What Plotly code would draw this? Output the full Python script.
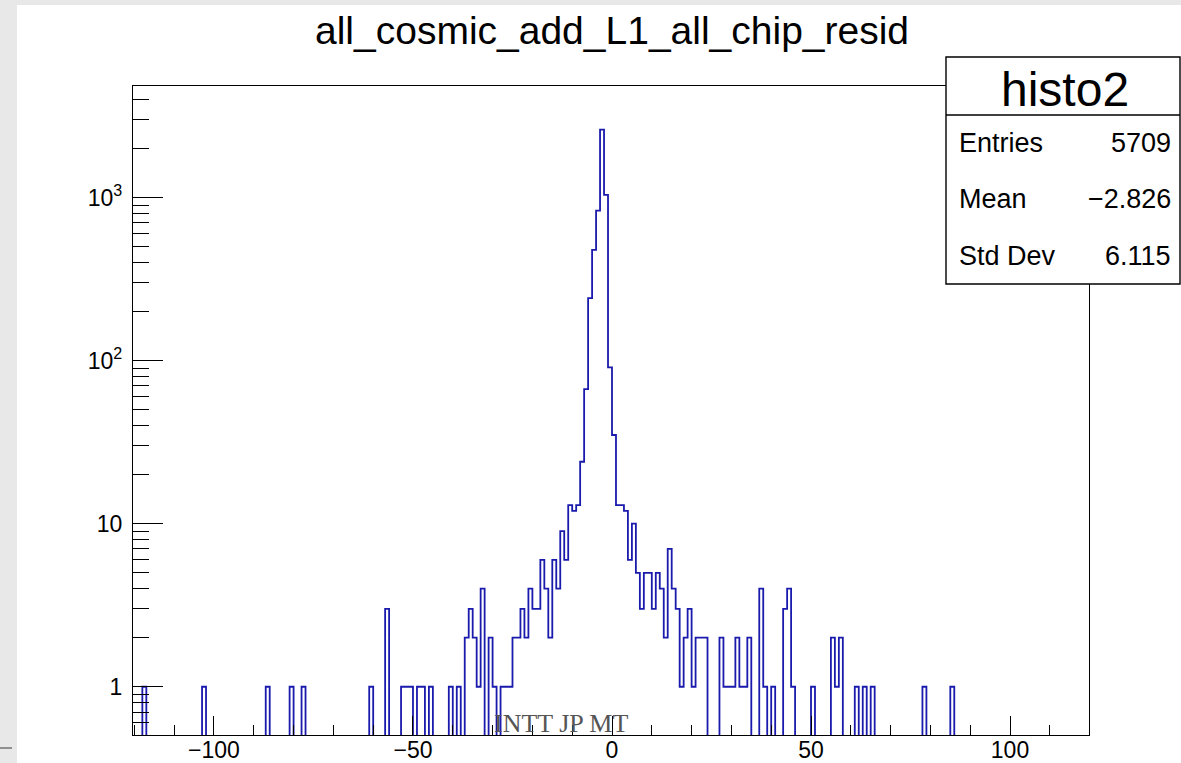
import plotly.graph_objects as go

# ---------------- data ----------------
bin_left = [-118, -103, -87, -81, -78, -61, -57, -53, -52, -51, -49, -48, -46, -41, -39,
            -37, -36, -35, -34, -33, -31, -30, -28, -27, -26, -25, -24, -23, -22, -21,
            -20, -19, -18, -17, -16, -15, -14, -13, -12, -11, -10, -9, -8, -7, -6,
            -5, -4, -3, -2, -1, 0, 1, 2, 3, 4, 5, 6, 7, 8, 9,
            10, 11, 12, 13, 14, 15, 16, 17, 18, 19, 20, 21, 22, 23, 27,
            28, 29, 30, 31, 32, 33, 34, 37, 38, 40, 43, 44, 45, 50, 55,
            56, 57, 61, 63, 65, 78, 85]
counts = [1, 1, 1, 1, 1, 1, 3, 1, 1, 1, 1, 1, 1, 1, 1,
          2, 3, 2, 1, 4, 2, 1, 1, 1, 1, 2, 2, 3, 2, 4,
          3, 3, 6, 4, 2, 6, 4, 9, 6, 13, 12, 13, 24, 67, 242,
          478, 832, 2614, 1039, 91, 35, 13, 13, 12, 6, 10, 5, 3, 5, 5,
          3, 5, 4, 2, 7, 4, 3, 1, 2, 3, 1, 2, 2, 2, 2,
          1, 1, 1, 2, 1, 1, 2, 4, 1, 1, 3, 4, 1, 1, 2,
          1, 2, 1, 1, 1, 1, 1]
hist_min, hist_max = -120, 120

x_ticks = [-100, -50, 0, 50, 100]
y_ticks = [1, 10, 100, 1000]
y_ticktext = ["1", "10", "10<sup>2</sup>", "10<sup>3</sup>"]
y_minor = [0.6, 0.7, 0.8, 0.9, 2, 3, 4, 5, 6, 7, 8, 9, 20, 30, 40, 50, 60, 70, 80, 90,
           200, 300, 400, 500, 600, 700, 800, 900, 2000, 3000, 4000]

title_text = "all_cosmic_add_L1_all_chip_resid"
stats_name = "histo2"
stats_labels = ["Entries", "Mean", "Std Dev"]
stats_values = ["5709", "\u22122.826", "6.115"]
watermark = "INTT JP MT"

# ---------------- build step outline ----------------
lookup = dict(zip(bin_left, counts))
edges = list(range(hist_min, hist_max + 1))
ys = []
for k in range(hist_min, hist_max):
    c = lookup.get(k, 0)
    ys.append(c if c > 0 else 1e-4)
ys.append(ys[-1])

W, H = 1181, 763
def px(x):
    return x / W
def py(y):
    return 1 - y / H

FONT = "Liberation Sans"

fig = go.Figure()
fig.add_trace(go.Scatter(x=edges, y=ys, mode="lines", line_shape="hv",
                         line=dict(color="#1a1aad", width=1.8),
                         hoverinfo="skip", showlegend=False))

fig.update_layout(
    width=W, height=H, autosize=False,
    margin=dict(l=0, r=0, t=0, b=0, autoexpand=False),
    paper_bgcolor="#e8e8e8",
    plot_bgcolor="white",
    showlegend=False,
    xaxis=dict(
        domain=[px(133), px(1089)],
        range=[-120.35, 119.85],
        showline=True, mirror=True, linecolor="black", linewidth=1.2,
        showgrid=False, zeroline=False,
        ticks="inside", ticklen=19, tickwidth=1, tickcolor="black",
        tickmode="array", tickvals=x_ticks,
        minor=dict(dtick=10, tick0=0, ticks="inside", ticklen=10,
                   tickwidth=1, tickcolor="black", showgrid=False),
        tickfont=dict(family=FONT, size=23, color="black"),
        ticklabelstandoff=-6,
    ),
    yaxis=dict(
        type="log",
        domain=[py(735), py(86)],
        range=[-0.296, 3.685],
        showline=True, mirror=True, linecolor="black", linewidth=1.2,
        showgrid=False, zeroline=False,
        ticks="inside", ticklen=30, tickwidth=1, tickcolor="black",
        tickmode="array", tickvals=y_ticks, ticktext=y_ticktext,
        minor=dict(tickmode="array", tickvals=y_minor, ticks="inside",
                   ticklen=16, tickwidth=1, tickcolor="black", showgrid=False),
        tickfont=dict(family=FONT, size=23, color="black"),
        ticklabelstandoff=5,
    ),
)

shapes = []
# white canvas over gray page
shapes.append(dict(type="rect", xref="paper", yref="paper", x0=px(17), x1=1.0,
                   y0=0.0, y1=py(5), fillcolor="white", line=dict(width=0), layer="below"))
shapes.append(dict(type="line", xref="paper", yref="paper", x0=0, x1=px(12),
                   y0=py(748), y1=py(748), line=dict(color="#555555", width=1.2)))
# stats box
shapes.append(dict(type="rect", xref="paper", yref="paper", x0=px(946), x1=px(1180),
                   y0=py(284), y1=py(57), fillcolor="white",
                   line=dict(color="black", width=1.4), layer="above"))
shapes.append(dict(type="line", xref="paper", yref="paper", x0=px(946), x1=px(1180),
                   y0=py(115), y1=py(115), line=dict(color="black", width=1.4), layer="above"))
fig.update_layout(shapes=shapes)

ann = []
ann.append(dict(text=title_text, xref="paper", yref="paper", x=px(612), y=py(31),
                xanchor="center", yanchor="middle", showarrow=False,
                font=dict(family=FONT, size=39, color="black")))
ann.append(dict(text=stats_name, xref="paper", yref="paper", x=px(1065), y=py(89),
                xanchor="center", yanchor="middle", showarrow=False,
                font=dict(family=FONT, size=48, color="black")))
row_y = [143, 199, 256]
for lab, val, yy in zip(stats_labels, stats_values, row_y):
    ann.append(dict(text=lab, xref="paper", yref="paper", x=px(957), y=py(yy),
                    xanchor="left", yanchor="middle", showarrow=False,
                    font=dict(family=FONT, size=27, color="black")))
    ann.append(dict(text=val, xref="paper", yref="paper", x=px(1173), y=py(yy),
                    xanchor="right", yanchor="middle", showarrow=False,
                    font=dict(family=FONT, size=27, color="black")))
ann.append(dict(text=watermark, xref="paper", yref="paper", x=px(492), y=py(723),
                xanchor="left", yanchor="middle", showarrow=False,
                font=dict(family="Liberation Serif", size=26, color="#555555")))
fig.update_layout(annotations=ann)

fig.write_html(
    "out.html",
    config={"responsive": False},
    post_script="document.documentElement.style.overflow='hidden';"
                "document.body.style.overflow='hidden';document.body.style.margin='0';",
)
